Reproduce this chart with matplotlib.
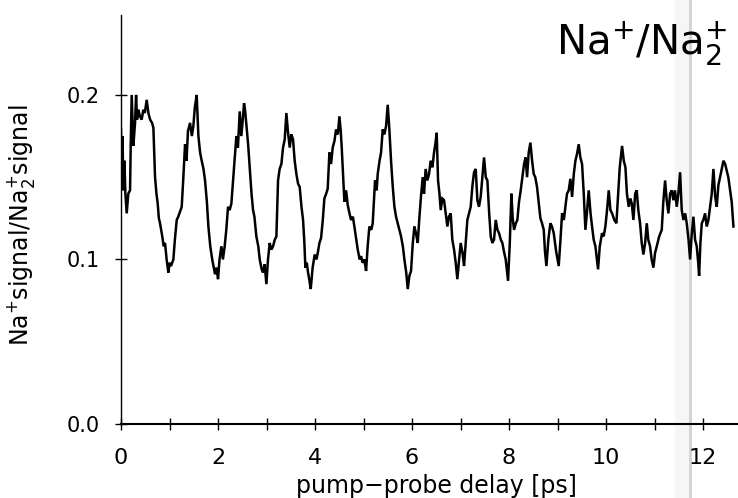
import matplotlib
matplotlib.use("Agg")
import matplotlib.pyplot as plt
from matplotlib.lines import Line2D
from matplotlib.patches import Rectangle

# pump-probe delay [ps]
delay_ps = [
    0.000, 0.015, 0.030, 0.050, 0.070, 0.090, 0.117, 0.150, 0.186, 0.200,
    0.220, 0.254, 0.289, 0.310, 0.330, 0.357, 0.390, 0.426, 0.460, 0.490,
    0.529, 0.564, 0.600, 0.640, 0.667, 0.701, 0.730, 0.756, 0.780, 0.804,
    0.850, 0.880, 0.907, 0.940, 0.976, 1.000, 1.030, 1.079, 1.110, 1.148,
    1.180, 1.251, 1.285, 1.320, 1.350, 1.380, 1.423, 1.460, 1.491, 1.520,
    1.560, 1.595, 1.630, 1.663, 1.700, 1.732, 1.770, 1.801, 1.840, 1.880,
    1.938, 1.970, 2.000, 2.030, 2.069, 2.100, 2.137, 2.170, 2.206, 2.240,
    2.275, 2.309, 2.340, 2.378, 2.410, 2.447, 2.480, 2.510, 2.536, 2.560,
    2.584, 2.620, 2.653, 2.690, 2.722, 2.750, 2.790, 2.830, 2.859, 2.900,
    2.928, 2.960, 2.997, 3.030, 3.065, 3.100, 3.134, 3.170, 3.203, 3.237,
    3.270, 3.306, 3.340, 3.375, 3.409, 3.440, 3.478, 3.510, 3.546, 3.580,
    3.615, 3.650, 3.684, 3.720, 3.753, 3.780, 3.801, 3.830, 3.856, 3.880,
    3.911, 3.950, 3.993, 4.030, 4.062, 4.090, 4.124, 4.160, 4.192, 4.230,
    4.261, 4.296, 4.330, 4.364, 4.400, 4.433, 4.470, 4.502, 4.530, 4.550,
    4.580, 4.605, 4.640, 4.674, 4.710, 4.742, 4.780, 4.811, 4.850, 4.880,
    4.920, 4.948, 4.980, 5.017, 5.052, 5.085, 5.120, 5.160, 5.189, 5.237,
    5.270, 5.292, 5.330, 5.361, 5.395, 5.430, 5.464, 5.498, 5.530, 5.567,
    5.600, 5.636, 5.670, 5.704, 5.740, 5.773, 5.810, 5.842, 5.880, 5.911,
    5.945, 5.979, 6.015, 6.048, 6.080, 6.117, 6.150, 6.186, 6.220, 6.247,
    6.280, 6.316, 6.350, 6.384, 6.420, 6.453, 6.480, 6.508, 6.536, 6.565,
    6.591, 6.625, 6.660, 6.695, 6.728, 6.760, 6.797, 6.830, 6.866, 6.900,
    6.934, 6.970, 7.003, 7.040, 7.072, 7.105, 7.140, 7.175, 7.209, 7.245,
    7.278, 7.312, 7.347, 7.380, 7.415, 7.450, 7.484, 7.520, 7.553, 7.590,
    7.622, 7.655, 7.690, 7.725, 7.760, 7.793, 7.830, 7.862, 7.900, 7.931,
    7.979, 8.015, 8.048, 8.075, 8.103, 8.140, 8.171, 8.205, 8.240, 8.275,
    8.309, 8.340, 8.371, 8.405, 8.440, 8.475, 8.508, 8.540, 8.577, 8.610,
    8.646, 8.680, 8.715, 8.740, 8.770, 8.810, 8.852, 8.885, 8.921, 8.970,
    9.024, 9.060, 9.093, 9.130, 9.161, 9.195, 9.230, 9.264, 9.300, 9.335,
    9.368, 9.400, 9.436, 9.470, 9.505, 9.540, 9.574, 9.610, 9.642, 9.680,
    9.711, 9.745, 9.780, 9.835, 9.870, 9.917, 9.950, 9.986, 10.020, 10.055,
    10.090, 10.124, 10.170, 10.213, 10.250, 10.282, 10.330, 10.365, 10.399, 10.430,
    10.467, 10.500, 10.530, 10.564, 10.600, 10.632, 10.665, 10.701, 10.735, 10.770,
    10.805, 10.839, 10.870, 10.907, 10.940, 10.976, 11.010, 11.045, 11.095, 11.148,
    11.180, 11.217, 11.250, 11.285, 11.320, 11.355, 11.388, 11.420, 11.457, 11.490,
    11.526, 11.560, 11.595, 11.630, 11.663, 11.700, 11.732, 11.765, 11.801, 11.835,
    11.869, 11.900, 11.918, 11.945, 11.973, 12.005, 12.041, 12.075, 12.110, 12.145,
    12.179, 12.213, 12.250, 12.282, 12.315, 12.351, 12.385, 12.419, 12.455, 12.488,
    12.520, 12.557, 12.590, 12.626,
]

# Na+ signal / Na2+ signal
ratio = [
    0.179, 0.150, 0.175, 0.142, 0.160, 0.140, 0.128, 0.140, 0.142, 0.170,
    0.200, 0.169, 0.183, 0.200, 0.185, 0.191, 0.187, 0.185, 0.191, 0.189,
    0.197, 0.189, 0.185, 0.183, 0.180, 0.150, 0.140, 0.134, 0.125, 0.122,
    0.114, 0.108, 0.110, 0.100, 0.092, 0.098, 0.096, 0.100, 0.112, 0.124,
    0.126, 0.132, 0.150, 0.170, 0.160, 0.178, 0.183, 0.175, 0.181, 0.192,
    0.200, 0.175, 0.165, 0.160, 0.155, 0.148, 0.135, 0.120, 0.108, 0.100,
    0.091, 0.095, 0.088, 0.100, 0.108, 0.100, 0.108, 0.118, 0.132, 0.130,
    0.134, 0.148, 0.160, 0.175, 0.168, 0.190, 0.175, 0.185, 0.195, 0.190,
    0.182, 0.170, 0.156, 0.140, 0.130, 0.126, 0.114, 0.108, 0.100, 0.094,
    0.092, 0.097, 0.085, 0.100, 0.110, 0.106, 0.108, 0.112, 0.114, 0.148,
    0.155, 0.158, 0.168, 0.173, 0.189, 0.178, 0.168, 0.176, 0.173, 0.160,
    0.152, 0.146, 0.144, 0.132, 0.124, 0.110, 0.095, 0.098, 0.092, 0.088,
    0.082, 0.095, 0.103, 0.100, 0.105, 0.110, 0.113, 0.124, 0.137, 0.140,
    0.143, 0.165, 0.158, 0.168, 0.172, 0.179, 0.176, 0.187, 0.178, 0.168,
    0.150, 0.135, 0.142, 0.133, 0.128, 0.124, 0.126, 0.120, 0.112, 0.106,
    0.100, 0.102, 0.098, 0.100, 0.093, 0.108, 0.120, 0.118, 0.122, 0.148,
    0.142, 0.152, 0.160, 0.165, 0.179, 0.176, 0.181, 0.194, 0.180, 0.160,
    0.145, 0.132, 0.126, 0.122, 0.118, 0.114, 0.108, 0.100, 0.092, 0.082,
    0.090, 0.093, 0.110, 0.120, 0.116, 0.110, 0.125, 0.139, 0.150, 0.140,
    0.155, 0.148, 0.152, 0.160, 0.156, 0.165, 0.170, 0.177, 0.148, 0.140,
    0.130, 0.137, 0.136, 0.128, 0.120, 0.126, 0.128, 0.112, 0.106, 0.098,
    0.088, 0.100, 0.110, 0.104, 0.096, 0.110, 0.124, 0.128, 0.132, 0.145,
    0.153, 0.155, 0.136, 0.132, 0.138, 0.150, 0.162, 0.150, 0.148, 0.128,
    0.114, 0.110, 0.112, 0.124, 0.118, 0.116, 0.112, 0.110, 0.104, 0.100,
    0.087, 0.110, 0.140, 0.125, 0.118, 0.122, 0.124, 0.135, 0.142, 0.150,
    0.158, 0.162, 0.150, 0.165, 0.171, 0.160, 0.152, 0.150, 0.144, 0.135,
    0.125, 0.122, 0.118, 0.105, 0.096, 0.112, 0.122, 0.120, 0.116, 0.105,
    0.096, 0.112, 0.128, 0.124, 0.132, 0.140, 0.142, 0.149, 0.138, 0.152,
    0.160, 0.164, 0.170, 0.162, 0.158, 0.140, 0.118, 0.130, 0.142, 0.128,
    0.120, 0.112, 0.108, 0.094, 0.108, 0.116, 0.114, 0.120, 0.130, 0.142,
    0.130, 0.128, 0.124, 0.122, 0.140, 0.156, 0.169, 0.160, 0.156, 0.140,
    0.132, 0.137, 0.134, 0.124, 0.140, 0.142, 0.130, 0.122, 0.110, 0.103,
    0.110, 0.122, 0.112, 0.108, 0.100, 0.095, 0.104, 0.108, 0.114, 0.118,
    0.135, 0.148, 0.136, 0.128, 0.140, 0.142, 0.136, 0.142, 0.132, 0.140,
    0.153, 0.130, 0.124, 0.128, 0.122, 0.112, 0.100, 0.115, 0.126, 0.112,
    0.108, 0.098, 0.090, 0.110, 0.122, 0.124, 0.128, 0.120, 0.124, 0.132,
    0.140, 0.155, 0.138, 0.132, 0.145, 0.150, 0.155, 0.160, 0.158, 0.154,
    0.150, 0.142, 0.135, 0.120,
]

x_major = [0, 2, 4, 6, 8, 10, 12]
x_minor = [1, 3, 5, 7, 9, 11]
y_ticks = [0.0, 0.1, 0.2]
y_ticklabels = ["0.0", "0.1", "0.2"]

plt.rcParams["font.family"] = ["DejaVu Sans"]
plt.rcParams["mathtext.default"] = "regular"

fig = plt.figure(figsize=(7.38, 4.98), dpi=100)
ax = fig.add_axes([0.164, 0.1486, 0.836, 0.8214])

# faint scanner stripe near the right edge
fig.add_artist(Rectangle((0.915, 0.0), 0.019, 1.0, transform=fig.transFigure,
                         color="#f6f6f6", zorder=0))
fig.add_artist(Line2D([0.935, 0.935], [0.0, 1.0], transform=fig.transFigure,
                      color="#d4d4d4", lw=2.2, zorder=0))

ax.patch.set_alpha(0)
ax.plot(delay_ps, ratio, color="black", lw=1.8, solid_joinstyle="miter")

ax.set_xlim(0, 12.72)
ax.set_ylim(0, 0.2486)

for side in ["top", "right"]:
    ax.spines[side].set_visible(False)
ax.spines["left"].set_linewidth(1.0)
ax.spines["bottom"].set_linewidth(1.5)

ax.set_xticks(x_major)
ax.set_xticks(x_minor, minor=True)
ax.set_yticks(y_ticks)
ax.set_yticklabels(y_ticklabels)
ax.tick_params(axis="both", which="both", direction="inout", length=9,
               width=1.0)
ax.tick_params(axis="x", which="major", labelsize=16, pad=13)
ax.tick_params(axis="y", labelsize=15, pad=11)

ax.set_xlabel("pump\u2212probe delay [ps]", fontsize=17)
ax.xaxis.set_label_coords(0.512, -0.122)
ax.set_ylabel(r"Na$^{+}$signal/Na$_{2}^{+}$signal", fontsize=17)
ax.yaxis.set_label_coords(-0.136, 0.487)

fig.text(0.754, 0.89, r"Na$^{+}$/Na$_{2}^{+}$", fontsize=29, ha="left",
         va="baseline")

fig.savefig("out.png", dpi=100)
